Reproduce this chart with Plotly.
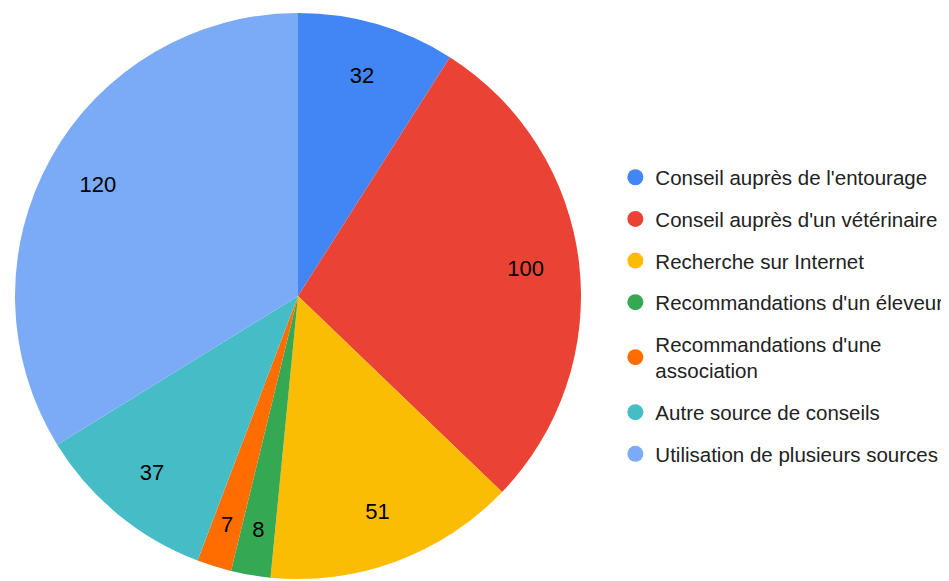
import plotly.graph_objects as go

labels = [
    "Conseil auprès de l'entourage",
    "Conseil auprès d'un vétérinaire",
    "Recherche sur Internet",
    "Recommandations d'un éleveur",
    "Recommandations d'une<br>association",
    "Autre source de conseils",
    "Utilisation de plusieurs sources",
]
values = [32, 100, 51, 8, 7, 37, 120]
colors = ["#4285F4", "#EA4335", "#FBBC04", "#34A853", "#FF6D01", "#46BDC6", "#7BAAF7"]

W, H = 949, 581
FONT = "Liberation Sans, Arial"
clear = ["rgba(0,0,0,0)"] * len(values)


def px_domain(cx, cy, r):
    # pie domain from a centre/radius in px (from top-left of the figure)
    return dict(x=[(cx - r) / W, (cx + r) / W], y=[(H - cy - r) / H, (H - cy + r) / H])


# page has an 8px body margin, so everything is shifted up/left by 8
dom = px_domain(290, 288, 283)
dom_small = px_domain(290, 288, 254)

small = [v < 10 for v in values]

fig = go.Figure()
fig.add_trace(go.Pie(
    labels=labels, values=values, sort=False, direction="clockwise", rotation=0,
    marker=dict(colors=colors, line=dict(width=0)),
    textinfo="none", showlegend=False, hoverinfo="label+value+percent",
    domain=dom,
))
# transparent donut on top only to put the value labels further out
fig.add_trace(go.Pie(
    labels=labels, values=values, sort=False, direction="clockwise", rotation=0,
    hole=0.62, marker=dict(colors=clear, line=dict(width=0)),
    texttemplate=["" if s else "%{value}" for s in small],
    textposition="inside", insidetextorientation="horizontal",
    textfont=dict(color="#000000", size=22, family=FONT),
    showlegend=False, hoverinfo="skip", domain=dom,
))
# thin slices: smaller transparent pie so their labels sit a bit lower
fig.add_trace(go.Pie(
    labels=labels, values=values, sort=False, direction="clockwise", rotation=0,
    hole=0.5, marker=dict(colors=clear, line=dict(width=0)),
    texttemplate=["%{value}" if s else "" for s in small],
    textposition="inside", insidetextorientation="horizontal",
    textfont=dict(color="#000000", size=22, family=FONT),
    showlegend=False, hoverinfo="skip", domain=dom_small,
))

# legend entries with round markers
for i, (lab, col) in enumerate(zip(labels, colors)):
    fig.add_trace(go.Scatter(
        x=[None], y=[None], mode="markers", name=lab, legendgroup=str(i),
        marker=dict(color=col, size=20, symbol="circle"),
    ))

fig.update_layout(
    width=W, height=H, margin=dict(l=0, r=0, t=0, b=0),
    paper_bgcolor="white", plot_bgcolor="white",
    xaxis=dict(visible=False), yaxis=dict(visible=False),
    font=dict(family=FONT, color="#222222"),
    legend=dict(
        x=0.64, y=0.47, xanchor="left", yanchor="middle",
        font=dict(size=20.5, color="#222222"),
        traceorder="grouped", tracegroupgap=12,
        bgcolor="rgba(0,0,0,0)",
    ),
)

fig.write_html("out.html")
